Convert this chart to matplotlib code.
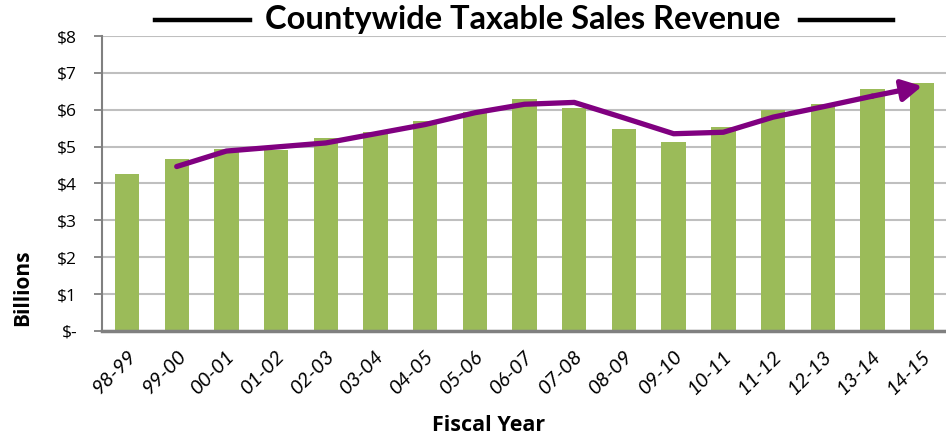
import matplotlib
matplotlib.use('Agg')
import matplotlib.pyplot as plt
from matplotlib.lines import Line2D

years = ['98-99', '99-00', '00-01', '01-02', '02-03', '03-04', '04-05', '05-06',
         '06-07', '07-08', '08-09', '09-10', '10-11', '11-12', '12-13', '13-14', '14-15']
revenue = [4.27, 4.66, 4.94, 4.90, 5.24, 5.41, 5.70, 5.93,
           6.28, 6.04, 5.47, 5.12, 5.53, 5.99, 6.17, 6.57, 6.74]
# trend line starts at 99-00
trend = [4.46, 4.88, 4.99, 5.10, 5.35, 5.60, 5.92, 6.15,
         6.20, 5.78, 5.35, 5.39, 5.80, 6.08, 6.37, 6.64]
y_ticks = [0, 1, 2, 3, 4, 5, 6, 7, 8]
y_labels = ['$-', '$1', '$2', '$3', '$4', '$5', '$6', '$7', '$8']

bar_color = '#9BBB59'
line_color = '#800080'

fig = plt.figure(figsize=(9.46, 4.40), dpi=100)
ax = fig.add_axes([0.108, 0.248, 0.893, 0.670])

x = list(range(len(years)))
ax.bar(x, revenue, width=0.49, color=bar_color, zorder=2)

tx = x[1:]
ax.plot(tx[:-1], trend[:-1], color=line_color, lw=3.8, solid_capstyle='round',
        solid_joinstyle='round', zorder=3)
ax.annotate('', xy=(tx[-1], trend[-1]), xytext=(tx[-2], trend[-2]),
            arrowprops=dict(arrowstyle='-|>,head_length=1.2,head_width=0.65',
                            color=line_color, lw=3.8, shrinkA=0, shrinkB=0),
            zorder=4)

ax.set_xlim(-0.5, 16.5)
ax.set_ylim(0, 8)
ax.set_yticks(y_ticks)
ax.set_yticklabels(y_labels, fontsize=12.5, family='Open Sans')
ax.grid(axis='y', color='#BFBFBF', lw=1.5, zorder=0)
ax.set_axisbelow(True)

ax.set_xticks(x)
ax.set_xticklabels(years, rotation=45, ha='right', rotation_mode='anchor',
                   fontsize=14.5, family='Lato', style='italic')
ax.tick_params(axis='x', length=0, pad=12)
ax.tick_params(axis='y', length=6, width=1.3, color='#808080', pad=12)

for s in ['top', 'right']:
    ax.spines[s].set_visible(False)
ax.spines['left'].set_color('#808080')
ax.spines['left'].set_linewidth(1.5)
ax.spines['bottom'].set_color('#808080')
ax.spines['bottom'].set_linewidth(2.5)

fig.text(0.024, 0.347, 'Billions', rotation=90, ha='center', va='center',
         fontsize=15, fontweight='bold', family='Open Sans')
fig.text(0.516, 0.034, 'Fiscal Year', ha='center', va='center', fontsize=15.5,
         fontweight='bold', family='Open Sans')
fig.text(0.553, 0.955, 'Countywide Taxable Sales Revenue',
         ha='center', va='center', fontsize=23.5, fontweight='bold', family='Lato')
# title rules either side
for x0, x1 in [(155, 250), (800, 893)]:
    fig.add_artist(Line2D([x0 / 946, x1 / 946], [0.955, 0.955], color='black', lw=3.2))

fig.savefig('out.png', dpi=100)
